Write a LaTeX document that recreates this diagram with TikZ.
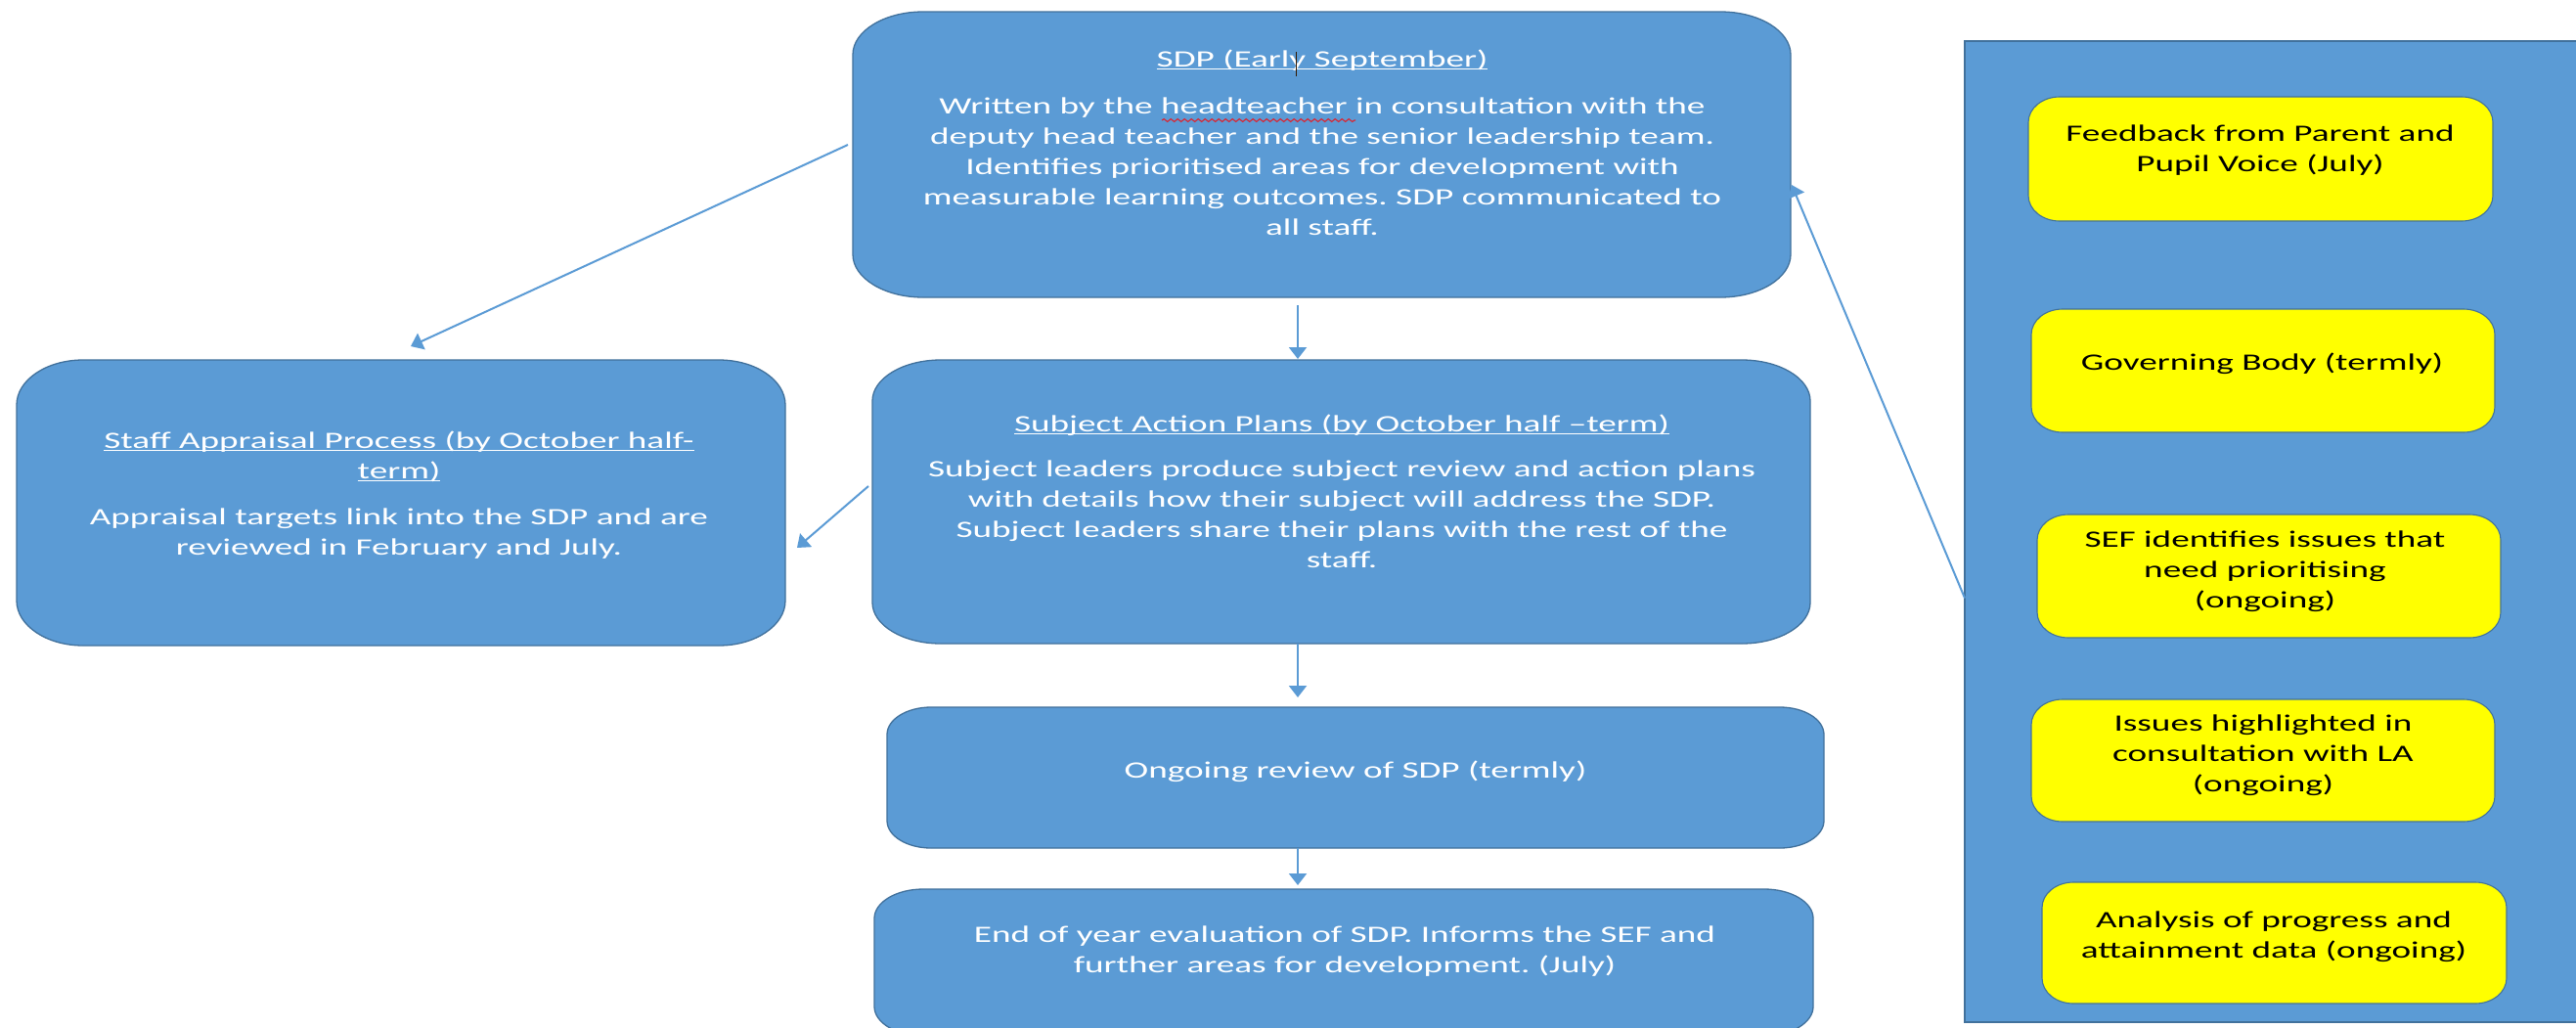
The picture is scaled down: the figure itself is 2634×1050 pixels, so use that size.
\documentclass[tikz,border=0pt]{standalone}
\usepackage{fontspec}
\setmainfont{Carlito}[FakeStretch=1.55]
\usetikzlibrary{calc,arrows.meta,decorations.pathmorphing}
\frenchspacing
\definecolor{boxblue}{HTML}{5B9BD5}
\definecolor{edgeblue}{HTML}{41719C}
\definecolor{ylw}{HTML}{FFFF00}
\definecolor{squig}{HTML}{E0202A}
\newlength\ulw
\newcommand\ulline[1]{\settowidth\ulw{#1}\rlap{#1}\rule[-3pt]{\ulw}{1.2pt}}
% elliptical rounded box drawn round a named frame node
\newcommand\ellbox[4]{%
  \path[#4] let \p1=(#1.south west), \p2=(#1.north east) in
   (\x1+#2,\y1) -- (\x2-#2,\y1) arc[start angle=-90,end angle=0,x radius=#2,y radius=#3]
   -- (\x2,\y2-#3) arc[start angle=0,end angle=90,x radius=#2,y radius=#3]
   -- (\x1+#2,\y2) arc[start angle=90,end angle=180,x radius=#2,y radius=#3]
   -- (\x1,\y1+#3) arc[start angle=180,end angle=270,x radius=#2,y radius=#3] -- cycle;}
\tikzset{
  frame/.style={rectangle, inner sep=0pt, outer sep=0pt, draw=none},
  bluefill/.style={fill=boxblue, draw=edgeblue, line width=1.3pt},
  ylwfill/.style={fill=ylw, draw=edgeblue, line width=1.1pt},
  wtxt/.style={text=white, align=center, anchor=base, inner sep=0pt, font=\fontsize{24}{31}\selectfont},
  btxt/.style={text=black, align=center, anchor=base, inner sep=0pt, font=\fontsize{24}{31}\selectfont},
  conn/.style={draw=boxblue, line width=2pt, -{Triangle[length=12pt,width=18pt]}},
}
\begin{document}
\begin{tikzpicture}[x=1pt,y=-1pt]
\clip (0,0) rectangle (2634,1050);
\fill[white] (0,0) rectangle (2634,1050);

% frames
\node[frame, minimum width=959pt, minimum height=292pt] (sdp) at (1351.5,158) {};
\node[frame, minimum width=786pt, minimum height=292pt] (staff) at (410,514) {};
\node[frame, minimum width=959pt, minimum height=290pt] (subj) at (1371.5,513) {};
\node[frame, minimum width=958pt, minimum height=144pt] (ongo) at (1386,795) {};
\node[frame, minimum width=960pt, minimum height=150pt] (endy) at (1374,984) {};
\node[frame, minimum width=640pt, minimum height=1003pt] (side) at (2329,543.5) {};
\node[frame, minimum width=475pt, minimum height=127pt] (y1) at (2311.5,162.5) {};
\node[frame, minimum width=474pt, minimum height=126pt] (y2) at (2314,379) {};
\node[frame, minimum width=474pt, minimum height=126pt] (y3) at (2320,589) {};
\node[frame, minimum width=474pt, minimum height=125pt] (y4) at (2314,777.5) {};
\node[frame, minimum width=475pt, minimum height=124pt] (y5) at (2325.5,964) {};

% shapes
\ellbox{sdp}{72pt}{44pt}{bluefill}
\ellbox{staff}{68pt}{46pt}{bluefill}
\ellbox{subj}{70pt}{42pt}{bluefill}
\ellbox{ongo}{45pt}{28pt}{bluefill}
\ellbox{endy}{50pt}{30pt}{bluefill}
\path[bluefill] (side.south west) rectangle (side.north east);
\ellbox{y1}{32pt}{26pt}{ylwfill}
\ellbox{y2}{32pt}{26pt}{ylwfill}
\ellbox{y3}{32pt}{26pt}{ylwfill}
\ellbox{y4}{32pt}{26pt}{ylwfill}
\ellbox{y5}{32pt}{26pt}{ylwfill}

% texts (anchor base = baseline of the last line)
\node[wtxt] (sdpT) at (1352,240) {\ulline{SDP (Early September)}\\[17pt]
  Written by the headteacher in consultation with the\\
  deputy head teacher and the senior leadership team.\\
  Identifies prioritised areas for development with\\
  measurable learning outcomes. SDP communicated to\\
  all staff.};
\node[wtxt] (staffT) at (408,567) {\ulline{Staff Appraisal Process (by October half-}\\
  \ulline{term)}\\[16pt]
  Appraisal targets link into the SDP and are\\
  reviewed in February and July.};
\node[wtxt] (subjT) at (1372,580) {\ulline{Subject Action Plans (by October half –term)}\\[15pt]
  Subject leaders produce subject review and action plans\\
  with details how their subject will address the SDP.\\
  Subject leaders share their plans with the rest of the\\
  staff.};
\node[wtxt] (ongoT) at (1386,795) {Ongoing review of SDP (termly)};
\node[wtxt] (endyT) at (1375,994) {End of year evaluation of SDP. Informs the SEF and\\
  further areas for development. (July)};

\node[btxt] (y1T) at (2311,175) {Feedback from Parent and\\Pupil Voice (July)};
\node[btxt] (y2T) at (2313,378) {Governing Body (termly)};
\node[btxt] (y3T) at (2316,621) {SEF identifies issues that\\need prioritising\\(ongoing)};
\node[btxt] (y4T) at (2314,809) {Issues highlighted in\\consultation with LA\\(ongoing)};
\node[btxt] (y5T) at (2325,979) {Analysis of progress and\\attainment data (ongoing)};

% editing marks shown in the picture
\draw[squig, line width=1.1pt, decorate, decoration={snake, amplitude=1.4pt, segment length=7pt}] (1188,123) -- (1386,123);
\draw[black!80!orange, line width=1.2pt] (1325.5,53) -- (1325.5,78);

% connectors
\coordinate (ax) at (1327,0);
\draw[conn] ($(sdp.west)+(-5,-10)$) -- ($(staff.north)+(10,-14)$);
\draw[conn] ($(subj.west)+(-4,-16)$) -- ($(staff.east)+(12,46)$);
\draw[conn, shorten <=8pt, shorten >=1pt] (sdp.south -| ax) -- (subj.north -| ax);
\draw[conn, shorten >=10pt] (subj.south -| ax) -- (ongo.north -| ax);
\draw[conn, shorten >=4pt] (ongo.south -| ax) -- (endy.north -| ax);
\draw[conn] ($(side.west)+(0,68)$) -- ($(sdp.east)+(1,31)$);
\end{tikzpicture}
\end{document}
